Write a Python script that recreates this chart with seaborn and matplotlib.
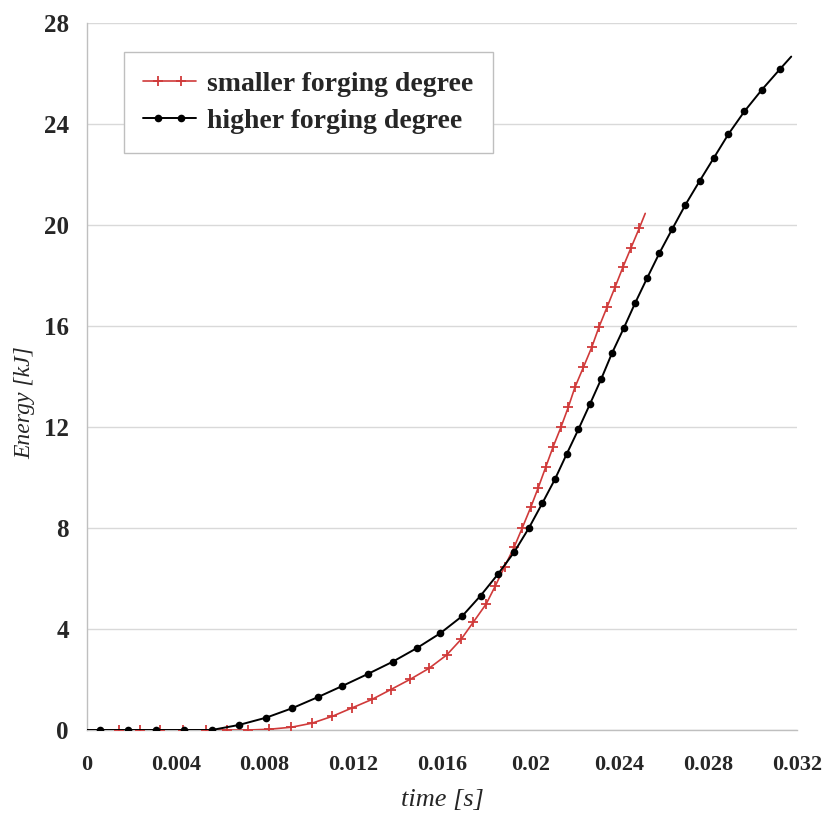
import matplotlib
matplotlib.use("Agg")
import matplotlib.pyplot as plt
import seaborn as sns
import pandas as pd
import numpy as np
from matplotlib.ticker import MultipleLocator
from matplotlib.legend_handler import HandlerLine2D
from matplotlib.lines import Line2D

# Energy vs. time for the two forging degrees
time_smaller = [0.0, 0.00143, 0.0024, 0.00327, 0.00432, 0.00536, 0.0063, 0.00727,
                0.00822, 0.00921, 0.01014, 0.01105, 0.01196, 0.01284, 0.01369,
                0.01457, 0.01541, 0.01621, 0.01686, 0.01741, 0.01799, 0.0184,
                0.01882, 0.01925, 0.01962, 0.02, 0.02034, 0.02067, 0.02101,
                0.02136, 0.02169, 0.02199, 0.02237, 0.02275, 0.02308, 0.02344,
                0.0238, 0.02415, 0.02452, 0.02489, 0.02516]
energy_smaller = [0.0, 0.0, 0.0, 0.0, 0.0, 0.0, 0.0, 0.0,
                  0.03, 0.11, 0.27, 0.54, 0.88, 1.21, 1.60,
                  2.01, 2.44, 2.97, 3.59, 4.27, 4.99, 5.70,
                  6.47, 7.24, 8.01, 8.82, 9.60, 10.40, 11.22,
                  11.99, 12.78, 13.57, 14.36, 15.16, 15.97, 16.75,
                  17.54, 18.32, 19.10, 19.87, 20.46]

time_higher = [0.0, 0.00059, 0.00187, 0.00309, 0.00435, 0.00562, 0.00685, 0.00808,
               0.00924, 0.0104, 0.0115, 0.01266, 0.01377, 0.01486, 0.01592,
               0.01691, 0.01774, 0.01852, 0.01925, 0.01991, 0.02052, 0.02109,
               0.02162, 0.02215, 0.02267, 0.02317, 0.02366, 0.02419, 0.0247,
               0.02524, 0.0258, 0.02637, 0.02697, 0.02761, 0.02826, 0.02891,
               0.02963, 0.03041, 0.03123, 0.03174]
energy_higher = [0.0, 0.0, 0.0, 0.0, 0.0, 0.0, 0.20, 0.49,
                 0.86, 1.30, 1.74, 2.22, 2.70, 3.24, 3.83,
                 4.51, 5.32, 6.17, 7.04, 7.99, 8.98, 9.93,
                 10.93, 11.91, 12.91, 13.89, 14.92, 15.91, 16.90,
                 17.89, 18.89, 19.83, 20.80, 21.74, 22.67, 23.60,
                 24.50, 25.35, 26.17, 26.67]

series_labels = ["smaller forging degree", "higher forging degree"]
x_ticks = [0, 0.004, 0.008, 0.012, 0.016, 0.02, 0.024, 0.028, 0.032]
x_tick_labels = ["0", "0.004", "0.008", "0.012", "0.016", "0.02", "0.024", "0.028", "0.032"]
y_ticks = [0, 4, 8, 12, 16, 20, 24, 28]


class FullLineTwoMarkers(HandlerLine2D):
    """Legend key: a full-length line with two markers set inside it."""

    def create_artists(self, legend, orig_handle, xdescent, ydescent,
                       width, height, fontsize, trans):
        y = height / 2 - ydescent
        x0, x1 = -xdescent, -xdescent + width
        line = Line2D([x0, x1], [y, y])
        self.update_prop(line, orig_handle, legend)
        line.set_marker("None")
        pad = 0.28 * width
        marks = Line2D(np.linspace(x0 + pad, x1 - pad, 2), [y, y])
        self.update_prop(marks, orig_handle, legend)
        marks.set_linestyle("None")
        marks.set_markevery(None)
        line.set_transform(trans)
        marks.set_transform(trans)
        return [line, marks]


sns.set_style("white")
plt.rcParams["font.family"] = ["Liberation Serif", "DejaVu Serif"]

df_small = pd.DataFrame({"time": time_smaller, "energy": energy_smaller})
df_high = pd.DataFrame({"time": time_higher, "energy": energy_higher})

fig = plt.figure(figsize=(8.22, 8.17), dpi=100)
ax = fig.add_axes([87 / 822, 87 / 817, 710 / 822, 707 / 817])

red = "#d03a3a"
sns.lineplot(data=df_small, x="time", y="energy", ax=ax, color=red, linewidth=1.2,
             marker="+", markersize=7, markeredgewidth=1.3, markeredgecolor=red,
             markevery=list(range(1, len(time_smaller) - 1)),
             label=series_labels[0], sort=False, zorder=3)
sns.lineplot(data=df_high, x="time", y="energy", ax=ax, color="black", linewidth=1.4,
             marker="o", markersize=5.5, markeredgewidth=0, markerfacecolor="black",
             markevery=list(range(1, len(time_higher) - 1)),
             label=series_labels[1], sort=False, zorder=4)

ax.set_xlim(0, 0.032)
ax.set_ylim(0, 28)
ax.set_xticks(x_ticks)
ax.set_xticklabels(x_tick_labels)
ax.set_yticks(y_ticks)
ax.yaxis.set_minor_locator(MultipleLocator(2))

ax.grid(axis="y", which="major", color="#d9d9d9", linewidth=1.0)
ax.grid(axis="x", visible=False)
ax.set_axisbelow(True)

for side in ("top", "right"):
    ax.spines[side].set_visible(False)
for side in ("left", "bottom"):
    ax.spines[side].set_color("#bfbfbf")
    ax.spines[side].set_linewidth(1.0)

ax.tick_params(axis="x", which="major", direction="out", length=8, width=1,
               color="#bfbfbf", pad=10, labelsize=16)
ax.tick_params(axis="y", which="major", direction="out", length=5, width=1,
               color="#d9d9d9", pad=8, labelsize=18)
ax.tick_params(axis="y", which="minor", direction="out", length=5, width=1,
               color="#d9d9d9")
for lbl in ax.get_xticklabels() + ax.get_yticklabels():
    lbl.set_fontweight("bold")

ax.set_xlabel("time [s]", fontsize=19, fontstyle="italic", labelpad=10)
ax.set_ylabel("Energy [kJ]", fontsize=17, fontstyle="italic")
ax.yaxis.set_label_coords(-0.073, 0.4625)

handles, labels = ax.get_legend_handles_labels()
leg = ax.legend(handles, labels, loc="upper left",
                bbox_to_anchor=(124 / 822, 1 - 52 / 817),
                bbox_transform=fig.transFigure, borderaxespad=0,
                frameon=True, fancybox=False, framealpha=1,
                edgecolor="#bfbfbf", prop={"size": 20, "weight": "bold"},
                handlelength=1.9, handletextpad=0.4, borderpad=0.7,
                labelspacing=0.42,
                handler_map={h: FullLineTwoMarkers() for h in handles})
leg.get_frame().set_linewidth(1.0)

fig.savefig("out.png", dpi=100)
